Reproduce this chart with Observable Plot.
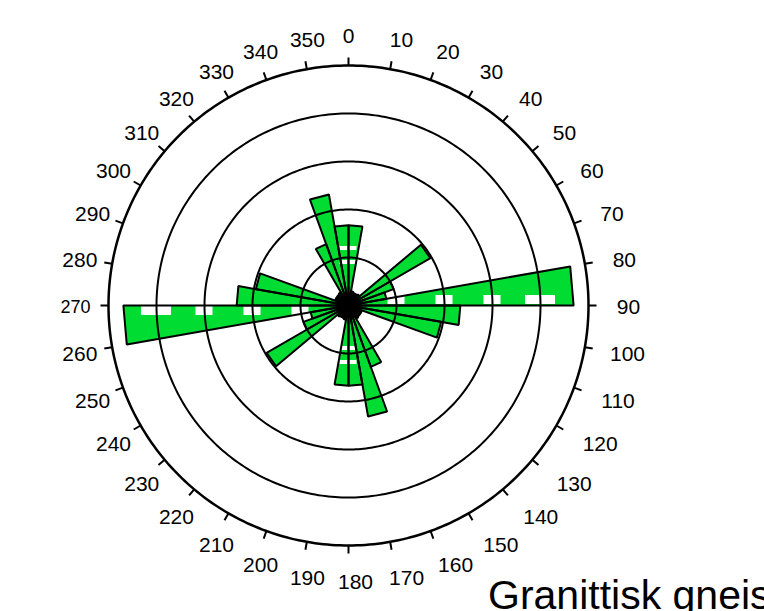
<!DOCTYPE html>
<html>
<head>
<meta charset="utf-8">
<script src="https://cdn.jsdelivr.net/npm/d3@7"></script>
<script src="https://cdn.jsdelivr.net/npm/@observablehq/plot@0.6"></script>
<style>
html, body { margin: 0; padding: 0; background: #fff; overflow: hidden; width: 764px; height: 611px; }
#wrap { position: relative; width: 764px; height: 611px; overflow: hidden; }
#caption { position: absolute; left: 488px; top: 572px; font-family: "Liberation Sans", Arial, sans-serif; font-size: 41px; white-space: nowrap; color: #000; line-height: normal; }
</style>
</head>
<body>
<div id="wrap"></div>
<script>
// ---- data (axial rose diagram: bins 0-180, mirrored to 180-360) ----
const binStart = [0, 10, 20, 30, 40, 50, 60, 70, 80, 90, 100, 110, 120, 130, 140, 150, 160, 170];
const binValue = [1.67, 0.3, 0.28, 0.28, 0.3, 1.97, 1.0, 0.8, 4.69, 2.33, 1.96, 0.3, 0.3, 0.3, 0.32, 1.36, 2.35, 1.67];
const binWidth = 10;
const ringValues = [1, 2, 3, 4, 5];
const tickAngles = d3.range(0, 360, 10);
const tickLabels = tickAngles.map(String);
const captionText = "Granittisk gneis";

// ---- layout ----
const W = 764, H = 611, cx = 348, cy = 305, unit = 48; // px per ring unit
const px = p => p / unit;
const rad = a => a * Math.PI / 180;
const polar = (r, a) => [r * Math.sin(rad(a)), r * Math.cos(rad(a))];

// petals (mirrored for axial data)
const bins = [];
binStart.forEach((s, i) => {
  bins.push({s, v: binValue[i]});
  bins.push({s: s + 180, v: binValue[i]});
});
const petalPts = [];
bins.forEach((b, k) => {
  const [x1, y1] = polar(b.v, b.s);
  const [x2, y2] = polar(b.v, b.s + binWidth);
  petalPts.push({k, x: 0, y: 0}, {k, x: x1, y: y1}, {k, x: x2, y: y2});
});

// rings
const ringPts = [];
ringValues.forEach(r => {
  for (let a = 0; a < 360; a += 1) {
    const [x, y] = polar(r, a);
    ringPts.push({r, x, y});
  }
});
const rMax = d3.max(ringValues);

// ticks (outward)
const ticks = tickAngles.map(a => {
  const [x1, y1] = polar(rMax, a);
  const [x2, y2] = polar(rMax + px(8), a);
  return {x1, y1, x2, y2};
});

// labels: placed just outside the outer ring, nudged as in the original
const labels = tickAngles.map((a, i) => {
  const s = Math.sin(rad(a)), c = Math.cos(rad(a));
  const [x, y] = polar(px(271), a);
  const n = tickLabels[i].length;
  const dx = (n === 1 ? 0 : 3) + 4 * c * c * (n - 1) / 2 + 6 * Math.max(0, s) + 18 * Math.max(0, s) * Math.max(0, -c) - 5 * Math.max(0, -s);
  const dy = 1.5 + 4 * Math.max(0, -c);
  return {x: x + px(dx), y: y - px(dy), text: tickLabels[i]};
});

// white knock-out boxes along the axes at each ring
const hBoxes = [];
ringValues.slice(0, -1).forEach((r, i) => {
  const hw = px(i < 3 ? 8.5 : 15);
  hBoxes.push({x1: r - hw, x2: r + hw, y1: px(1), y2: px(10)});
  hBoxes.push({x1: -r - hw, x2: -r + hw, y1: -px(1), y2: -px(10)});
});
const vStripes = [];
ringValues.slice(0, -1).forEach(r => {
  [[-px(7), -px(3)], [px(7), px(11)]].forEach(([o1, o2]) => {
    vStripes.push({x1: -px(8.5), x2: px(8.5), y1: r + o1, y2: r + o2});
    vStripes.push({x1: -px(8.5), x2: px(8.5), y1: -r - o1, y2: -r - o2});
  });
});

const green = "#00dc32";

const chart = Plot.plot({
  width: W,
  height: H,
  margin: 0,
  x: {axis: null, domain: [px(-cx), px(W - cx)]},
  y: {axis: null, domain: [px(cy - H), px(cy)]},
  style: {fontFamily: "'Liberation Sans', Arial, sans-serif", background: "#fff"},
  marks: [
    Plot.line(petalPts, {x: "x", y: "y", z: "k", fill: green, stroke: "none", curve: "linear-closed"}),
    Plot.rect(hBoxes, {x1: "x1", x2: "x2", y1: "y1", y2: "y2", fill: "white"}),
    Plot.rect(vStripes, {x1: "x1", x2: "x2", y1: "y1", y2: "y2", fill: "white"}),
    Plot.line(ringPts, {x: "x", y: "y", z: "r", stroke: "black", strokeWidth: d => d.r === rMax ? 2.5 : 2, curve: "linear-closed"}),
    Plot.line(petalPts, {x: "x", y: "y", z: "k", fill: "none", stroke: "black", strokeWidth: 2, strokeLinejoin: "miter", curve: "linear-closed"}),
    Plot.link(ticks, {x1: "x1", y1: "y1", x2: "x2", y2: "y2", stroke: "black", strokeWidth: 2}),
    Plot.text(labels, {x: "x", y: "y", text: "text", fill: "black",
      fontSize: d => d.text === "270" ? 18 : 21, textAnchor: "middle", lineAnchor: "middle"})
  ]
});

document.getElementById("wrap").appendChild(chart);
const cap = document.createElement("div");
cap.id = "caption";
cap.textContent = captionText;
document.getElementById("wrap").appendChild(cap);
</script>
</body>
</html>
